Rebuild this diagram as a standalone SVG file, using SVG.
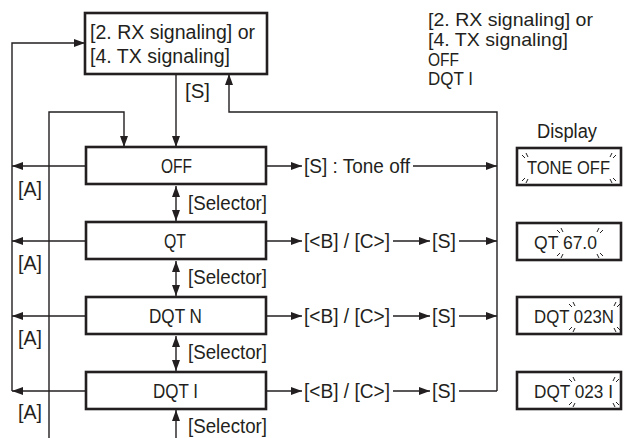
<svg xmlns="http://www.w3.org/2000/svg" xmlns:xlink="http://www.w3.org/1999/xlink" width="625" height="438" viewBox="0 0 625 438">
<style>
text{font-family:"Liberation Sans",Arial,sans-serif;font-size:20px;fill:#231f20}
.tr19{font-size:18.5px}
.disp{font-size:18.5px}
.box{fill:#fff;stroke:#231f20;stroke-width:2.6}
.ln{fill:none;stroke:#231f20;stroke-width:1.4}
.bk{stroke:#231f20;stroke-width:1;fill:none}
</style>
<defs>
<marker id="ah" markerUnits="userSpaceOnUse" markerWidth="11" markerHeight="8" refX="11" refY="4" orient="auto-start-reverse"><path d="M0,0 L11,4 L0,8 z" fill="#231f20"/></marker>
<g id="tl" class="bk"><line x1="-6" y1="-5" x2="-3" y2="-2"/><line x1="-2" y1="-7" x2="0" y2="-3"/></g>
<g id="tr" class="bk"><line x1="6" y1="-5" x2="3" y2="-2"/><line x1="2" y1="-7" x2="0" y2="-3"/></g>
<g id="bl" class="bk"><line x1="-6" y1="5" x2="-3" y2="2"/><line x1="-2" y1="7" x2="0" y2="3"/></g>
<g id="br" class="bk"><line x1="6" y1="5" x2="3" y2="2"/><line x1="2" y1="7" x2="0" y2="3"/></g>
</defs>
<g id="connectors">
<polyline class="ln" points="12,391 12,43 85,43" marker-end="url(#ah)"/>
<polyline class="ln" points="49,438 49,112 124,112 124,147" marker-end="url(#ah)"/>
<line class="ln" x1="176" y1="74" x2="176" y2="147" marker-end="url(#ah)"/>
<polyline class="ln" points="497,391 497,112 229,112 229,74" marker-end="url(#ah)"/>
<line class="ln" x1="86" y1="166" x2="12" y2="166" marker-end="url(#ah)"/>
<line class="ln" x1="86" y1="241" x2="12" y2="241" marker-end="url(#ah)"/>
<line class="ln" x1="86" y1="316" x2="12" y2="316" marker-end="url(#ah)"/>
<line class="ln" x1="86" y1="391" x2="12" y2="391" marker-end="url(#ah)"/>
<line class="ln" x1="176" y1="186" x2="176" y2="221" marker-start="url(#ah)" marker-end="url(#ah)"/>
<line class="ln" x1="176" y1="261" x2="176" y2="296" marker-start="url(#ah)" marker-end="url(#ah)"/>
<line class="ln" x1="176" y1="336" x2="176" y2="371" marker-start="url(#ah)" marker-end="url(#ah)"/>
<line class="ln" x1="176" y1="438" x2="176" y2="410" marker-end="url(#ah)"/>
<line class="ln" x1="266" y1="166" x2="302" y2="166" marker-end="url(#ah)"/>
<line class="ln" x1="413" y1="166" x2="497" y2="166" marker-end="url(#ah)"/>
<line class="ln" x1="266" y1="241" x2="302" y2="241" marker-end="url(#ah)"/>
<line class="ln" x1="393" y1="241" x2="430" y2="241" marker-end="url(#ah)"/>
<line class="ln" x1="459" y1="241" x2="497" y2="241" marker-end="url(#ah)"/>
<line class="ln" x1="266" y1="316" x2="302" y2="316" marker-end="url(#ah)"/>
<line class="ln" x1="393" y1="316" x2="430" y2="316" marker-end="url(#ah)"/>
<line class="ln" x1="459" y1="316" x2="497" y2="316" marker-end="url(#ah)"/>
<line class="ln" x1="266" y1="391" x2="302" y2="391" marker-end="url(#ah)"/>
<line class="ln" x1="393" y1="391" x2="430" y2="391" marker-end="url(#ah)"/>
<line class="ln" x1="459" y1="391" x2="497" y2="391"/>
</g>
<g id="labels">
<text x="185" y="98" textLength="25" lengthAdjust="spacingAndGlyphs">[S]</text>
<text x="18" y="196" textLength="24" lengthAdjust="spacingAndGlyphs">[A]</text>
<text x="18" y="270" textLength="24" lengthAdjust="spacingAndGlyphs">[A]</text>
<text x="18" y="345" textLength="24" lengthAdjust="spacingAndGlyphs">[A]</text>
<text x="18" y="419" textLength="24" lengthAdjust="spacingAndGlyphs">[A]</text>
<text x="188" y="210" textLength="79" lengthAdjust="spacingAndGlyphs">[Selector]</text>
<text x="188" y="284" textLength="79" lengthAdjust="spacingAndGlyphs">[Selector]</text>
<text x="188" y="359" textLength="79" lengthAdjust="spacingAndGlyphs">[Selector]</text>
<text x="188" y="433" textLength="79" lengthAdjust="spacingAndGlyphs">[Selector]</text>
<text x="304" y="173" textLength="106" lengthAdjust="spacingAndGlyphs">[S] : Tone off</text>
<text x="304" y="248" textLength="86" lengthAdjust="spacingAndGlyphs">[&lt;B] / [C&gt;]</text>
<text x="432" y="248" textLength="24" lengthAdjust="spacingAndGlyphs">[S]</text>
<text x="304" y="323" textLength="86" lengthAdjust="spacingAndGlyphs">[&lt;B] / [C&gt;]</text>
<text x="432" y="323" textLength="24" lengthAdjust="spacingAndGlyphs">[S]</text>
<text x="304" y="398" textLength="86" lengthAdjust="spacingAndGlyphs">[&lt;B] / [C&gt;]</text>
<text x="432" y="398" textLength="24" lengthAdjust="spacingAndGlyphs">[S]</text>
<text class="tr19" x="428" y="26" textLength="165" lengthAdjust="spacingAndGlyphs">[2. RX signaling] or</text>
<text class="tr19" x="428" y="46" textLength="140" lengthAdjust="spacingAndGlyphs">[4. TX signaling]</text>
<text class="tr19" x="428" y="66" textLength="31" lengthAdjust="spacingAndGlyphs">OFF</text>
<text class="tr19" x="428" y="85" textLength="45" lengthAdjust="spacingAndGlyphs">DQT I</text>
<text x="537" y="138" textLength="60" lengthAdjust="spacingAndGlyphs">Display</text>
</g>
<g id="node-top">
<rect class="box" x="85" y="13" width="182" height="61"/>
<text x="90" y="39" textLength="165" lengthAdjust="spacingAndGlyphs">[2. RX signaling] or</text>
<text x="90" y="63" textLength="140" lengthAdjust="spacingAndGlyphs">[4. TX signaling]</text>
</g>
<g id="node-off">
<rect class="box" x="86" y="147" width="180" height="37"/>
<text x="161" y="173" textLength="31" lengthAdjust="spacingAndGlyphs">OFF</text>
</g>
<g id="node-qt">
<rect class="box" x="86" y="222" width="180" height="37"/>
<text x="164" y="248" textLength="22" lengthAdjust="spacingAndGlyphs">QT</text>
</g>
<g id="node-dqtn">
<rect class="box" x="86" y="297" width="180" height="37"/>
<text x="149" y="323" textLength="53" lengthAdjust="spacingAndGlyphs">DQT N</text>
</g>
<g id="node-dqti">
<rect class="box" x="86" y="372" width="180" height="37"/>
<text x="153" y="398" textLength="45" lengthAdjust="spacingAndGlyphs">DQT I</text>
</g>
<g id="display-toneoff">
<rect class="box" x="517" y="148" width="104" height="37"/>
<text class="disp" x="527" y="174" textLength="83" lengthAdjust="spacingAndGlyphs">TONE OFF</text>
<use xlink:href="#tl" x="528" y="160"/><use xlink:href="#bl" x="528" y="176"/>
<use xlink:href="#tr" x="610" y="160"/><use xlink:href="#br" x="610" y="176"/>
</g>
<g id="display-qt">
<rect class="box" x="517" y="223" width="104" height="37"/>
<text class="disp" x="534" y="249" textLength="63" lengthAdjust="spacingAndGlyphs">QT 67.0</text>
<use xlink:href="#tl" x="563" y="235"/><use xlink:href="#bl" x="563" y="251"/>
<use xlink:href="#tr" x="597" y="235"/><use xlink:href="#br" x="597" y="251"/>
</g>
<g id="display-dqtn">
<rect class="box" x="517" y="297" width="104" height="37"/>
<text class="disp" x="534" y="323" textLength="80" lengthAdjust="spacingAndGlyphs">DQT 023N</text>
<use xlink:href="#tl" x="575" y="309"/><use xlink:href="#bl" x="575" y="325"/>
<use xlink:href="#tr" x="614" y="309"/><use xlink:href="#br" x="614" y="325"/>
</g>
<g id="display-dqti">
<rect class="box" x="517" y="372" width="104" height="37"/>
<text class="disp" x="534" y="398" textLength="79" lengthAdjust="spacingAndGlyphs">DQT 023 I</text>
<use xlink:href="#tl" x="575" y="384"/><use xlink:href="#bl" x="575" y="400"/>
<use xlink:href="#tr" x="613" y="384"/><use xlink:href="#br" x="613" y="400"/>
</g>
</svg>
